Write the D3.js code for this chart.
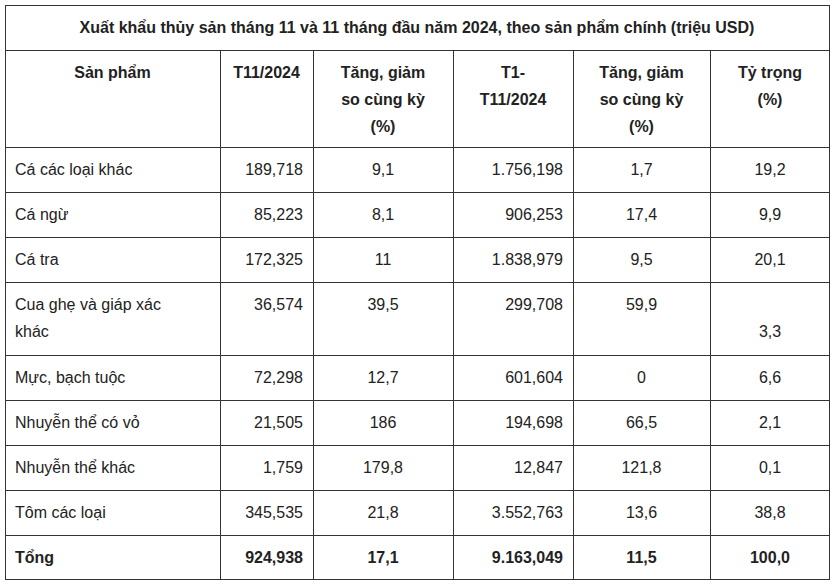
<!DOCTYPE html>
<html><head><meta charset="utf-8">
<script src="https://cdn.jsdelivr.net/npm/d3@7"></script>
<style>body{margin:0;background:#fff}text{font-family:"Liberation Sans",Arial,sans-serif;font-size:16px;fill:#222}</style>
</head><body><svg width="835" height="587"></svg>
<script>
const title = 'Xuất khẩu thủy sản tháng 11 và 11 tháng đầu năm 2024, theo sản phẩm chính (triệu USD)';
const headers = [['Sản phẩm'], ['T11/2024'], ['Tăng, giảm', 'so cùng kỳ', '(%)'], ['T1-', 'T11/2024'], ['Tăng, giảm', 'so cùng kỳ', '(%)'], ['Tỷ trọng', '(%)']];
const products = ['Cá các loại khác', 'Cá ngừ', 'Cá tra', 'Cua ghẹ và giáp xác khác', 'Mực, bạch tuộc', 'Nhuyễn thể có vỏ', 'Nhuyễn thể khác', 'Tôm các loại', 'Tổng'];
const t11 = ['189,718', '85,223', '172,325', '36,574', '72,298', '21,505', '1,759', '345,535', '924,938'];
const t11Change = ['9,1', '8,1', '11', '39,5', '12,7', '186', '179,8', '21,8', '17,1'];
const ytd = ['1.756,198', '906,253', '1.838,979', '299,708', '601,604', '194,698', '12,847', '3.552,763', '9.163,049'];
const ytdChange = ['1,7', '17,4', '9,5', '59,9', '0', '66,5', '121,8', '13,6', '11,5'];
const share = ['19,2', '9,9', '20,1', '3,3', '6,6', '2,1', '0,1', '38,8', '100,0'];

const svg = d3.select('svg');
const colX = [5, 220, 313, 453, 573, 710, 830];
const rowH = [45, 45, 45, 73, 45, 45, 45, 45, 45];
const top0 = 147;
const rowY = rowH.reduce((a, h) => (a.push(a[a.length - 1] + h), a), [top0]);

// frame and grid
svg.append('rect').attr('x', 5.5).attr('y', 5.5).attr('width', 824).attr('height', 574)
  .attr('fill', 'none').attr('stroke', '#333');
svg.append('line').attr('x1', 5).attr('x2', 830).attr('y1', 50.5).attr('y2', 50.5).attr('stroke', '#333');
svg.selectAll('.h').data(rowY.slice(0, -1)).enter().append('line')
  .attr('x1', 5).attr('x2', 830).attr('y1', d => d + .5).attr('y2', d => d + .5).attr('stroke', '#333');
svg.selectAll('.v').data(colX.slice(1, -1)).enter().append('line')
  .attr('x1', d => d + .5).attr('x2', d => d + .5).attr('y1', 50).attr('y2', 580).attr('stroke', '#333');

svg.append('text').attr('x', 417).attr('y', 33).attr('text-anchor', 'middle')
  .attr('font-weight', 'bold').text(title);

// headers
headers.forEach((lines, c) => {
  const cx = (colX[c] + colX[c + 1]) / 2;
  lines.forEach((l, i) => svg.append('text').attr('x', cx).attr('y', 78 + i * 27)
    .attr('text-anchor', 'middle').attr('font-weight', 'bold').text(l));
});

// body
const cols = [t11, t11Change, ytd, ytdChange, share];
products.forEach((p, r) => {
  const y0 = rowY[r];
  const bold = r === products.length - 1 ? 'bold' : null;
  const base = y0 + 28;
  const nameLines = p === 'Cua ghẹ và giáp xác khác' ? ['Cua ghẹ và giáp xác', 'khác'] : [p];
  nameLines.forEach((l, i) => svg.append('text').attr('x', 15).attr('y', base + i * 27)
    .attr('font-weight', bold).text(l));
  cols.forEach((col, c) => {
    const ci = c + 1;
    const right = ci === 1 || ci === 3;
    const y = (rowH[r] > 45 && ci === 5) ? base + 27 : base;
    svg.append('text')
      .attr('x', right ? colX[ci + 1] - 10 : (colX[ci] + colX[ci + 1]) / 2)
      .attr('y', y).attr('text-anchor', right ? 'end' : 'middle')
      .attr('font-weight', bold).text(col[r]);
  });
});
</script></body></html>
